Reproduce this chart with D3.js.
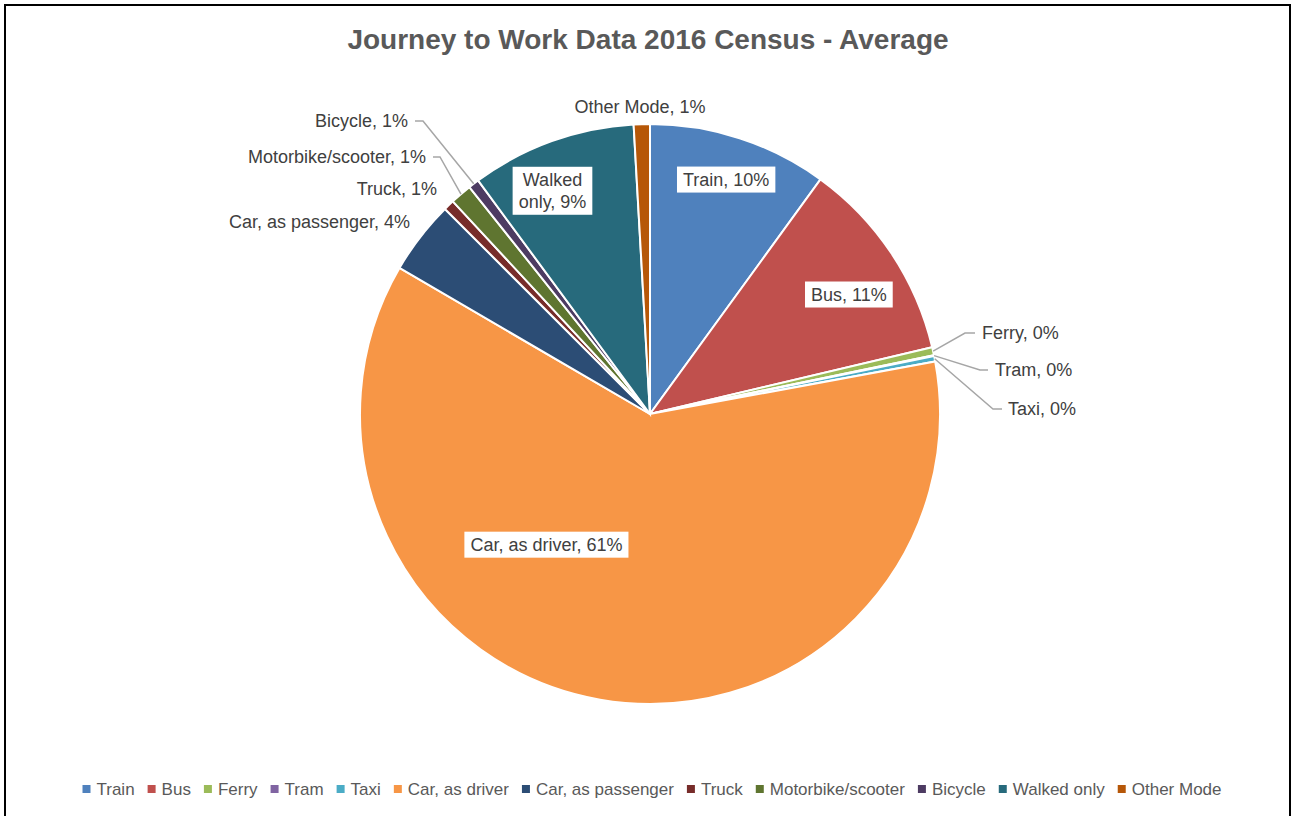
<!DOCTYPE html>
<html>
<head>
<meta charset="utf-8">
<script src="https://cdn.jsdelivr.net/npm/d3@7/dist/d3.min.js"></script>
<style>
  body { margin: 0; background: #fff; }
  svg { display: block; font-family: "Liberation Sans", Arial, sans-serif; }
</style>
</head>
<body>
<svg id="chart"></svg>
<script>
// Data (share of journeys, %)
const modes = ['Train', 'Bus', 'Ferry', 'Tram', 'Taxi', 'Car, as driver', 'Car, as passenger',
  'Truck', 'Motorbike/scooter', 'Bicycle', 'Walked only', 'Other Mode'];
const shares = [10.0, 11.3, 0.45, 0.05, 0.3, 61.3, 4.1, 0.6, 1.2, 0.6, 9.2, 0.9];
const colors = ['#4F81BD', '#C0504D', '#9BBB59', '#8064A2', '#4BACC6', '#F79646', '#2C4D75',
  '#772C2A', '#5F7530', '#4D3B62', '#276A7C', '#B65708'];

// label layout: inside labels in polar terms, outside labels as offsets from the centre
const labelLayout = {
  'Train':             { type: 'in', angle: 18, r: 0.85 },
  'Bus':               { type: 'in', angle: 59, r: 0.80 },
  'Car, as driver':    { type: 'in', angle: 218.4, r: 0.575, },
  'Walked only':       { type: 'in', angle: 336.4, r: 0.84, lines: ['Walked', 'only, 9%'] },
  'Other Mode':        { type: 'out', dx: -10, dy: -307, anchor: 'middle' },
  'Ferry':             { type: 'out', dx: 332, dy: -81, anchor: 'start', elbow: [315, 325] },
  'Tram':              { type: 'out', dx: 345, dy: -44, anchor: 'start', elbow: [330, 338] },
  'Taxi':              { type: 'out', dx: 358, dy: -5, anchor: 'start', elbow: [343, 352] },
  'Car, as passenger': { type: 'out', dx: -240, dy: -192, anchor: 'end' },
  'Truck':             { type: 'out', dx: -213, dy: -225, anchor: 'end' },
  'Motorbike/scooter': { type: 'out', dx: -224, dy: -257, anchor: 'end', elbow: [-217, -210] },
  'Bicycle':           { type: 'out', dx: -242, dy: -293, anchor: 'end', elbow: [-235, -227] }
};

const width = 1293, height = 816;
const cx = 650, cy = 414, radius = 290;

const svg = d3.select('#chart').attr('width', width).attr('height', height);

svg.append('rect')
  .attr('x', 5).attr('y', 5)
  .attr('width', 1285).attr('height', 830)
  .attr('fill', '#fff')
  .attr('stroke', '#000')
  .attr('stroke-width', 2);

svg.append('text')
  .attr('x', 648).attr('y', 49)
  .attr('text-anchor', 'middle')
  .attr('font-size', 28)
  .attr('font-weight', 'bold')
  .attr('fill', '#595959')
  .text('Journey to Work Data 2016 Census - Average');

const data = modes.map((m, i) => ({ mode: m, value: shares[i], color: colors[i] }));
const total = d3.sum(shares);
const pct = d => Math.round(d.value / total * 100) + '%';

const pie = d3.pie().sort(null).value(d => d.value);
const arc = d3.arc().innerRadius(0).outerRadius(radius);
const arcs = pie(data);

const g = svg.append('g').attr('transform', `translate(${cx},${cy})`);

g.selectAll('path.slice')
  .data(arcs)
  .join('path')
  .attr('class', 'slice')
  .attr('d', arc)
  .attr('fill', d => d.data.color)
  .attr('stroke', '#fff')
  .attr('stroke-width', 2);

const polar = (deg, r) => {
  const a = deg * Math.PI / 180;
  return [Math.sin(a) * r, -Math.cos(a) * r];
};

const labelG = g.append('g');

arcs.forEach(d => {
  const lay = labelLayout[d.data.mode];
  const text = d.data.mode + ', ' + pct(d);
  if (lay.type === 'in') {
    const [x, y] = polar(lay.angle, lay.r * radius);
    const lines = lay.lines || [text];
    const lg = labelG.append('g').attr('transform', `translate(${x},${y})`);
    const box = lg.append('rect').attr('fill', '#fff');
    const t = lg.append('text')
      .attr('text-anchor', 'middle')
      .attr('font-size', 18)
      .attr('fill', '#404040');
    lines.forEach((ln, i) => {
      t.append('tspan')
        .attr('x', 0)
        .attr('y', (i - (lines.length - 1) / 2) * 22 + 6)
        .text(ln);
    });
    const bb = t.node().getBBox();
    box.attr('x', bb.x - 6).attr('y', bb.y - 3)
      .attr('width', bb.width + 12).attr('height', bb.height + 6);
  } else {
    // leader line from slice edge
    if (lay.elbow) {
      const mid = (d.startAngle + d.endAngle) / 2;
      const p0 = [Math.sin(mid) * radius, -Math.cos(mid) * radius];
      const [e0, e1] = lay.elbow;
      const pts = lay.anchor === 'start'
        ? [p0, [e0, lay.dy], [e1, lay.dy]]
        : [p0, [e1, lay.dy], [e0, lay.dy]];
      labelG.append('path')
        .attr('d', d3.line()(pts))
        .attr('fill', 'none')
        .attr('stroke', '#A6A6A6')
        .attr('stroke-width', 1.5);
    }
    labelG.append('text')
      .attr('x', lay.dx).attr('y', lay.dy + 6)
      .attr('text-anchor', lay.anchor)
      .attr('font-size', 18)
      .attr('fill', '#404040')
      .text(text);
  }
});

// legend
const legend = svg.append('g').attr('transform', 'translate(0,789)');
let lx = 0;
data.forEach(d => {
  const it = legend.append('g').attr('transform', `translate(${lx},0)`);
  it.append('rect').attr('x', 0).attr('y', -4).attr('width', 8).attr('height', 8).attr('fill', d.color);
  const t = it.append('text').attr('x', 14).attr('y', 6)
    .attr('font-size', 17).attr('fill', '#595959').text(d.mode);
  lx += 14 + t.node().getComputedTextLength() + 13;
});
const legendWidth = lx - 13;
legend.attr('transform', `translate(${652 - legendWidth / 2},789)`);
</script>
</body>
</html>
